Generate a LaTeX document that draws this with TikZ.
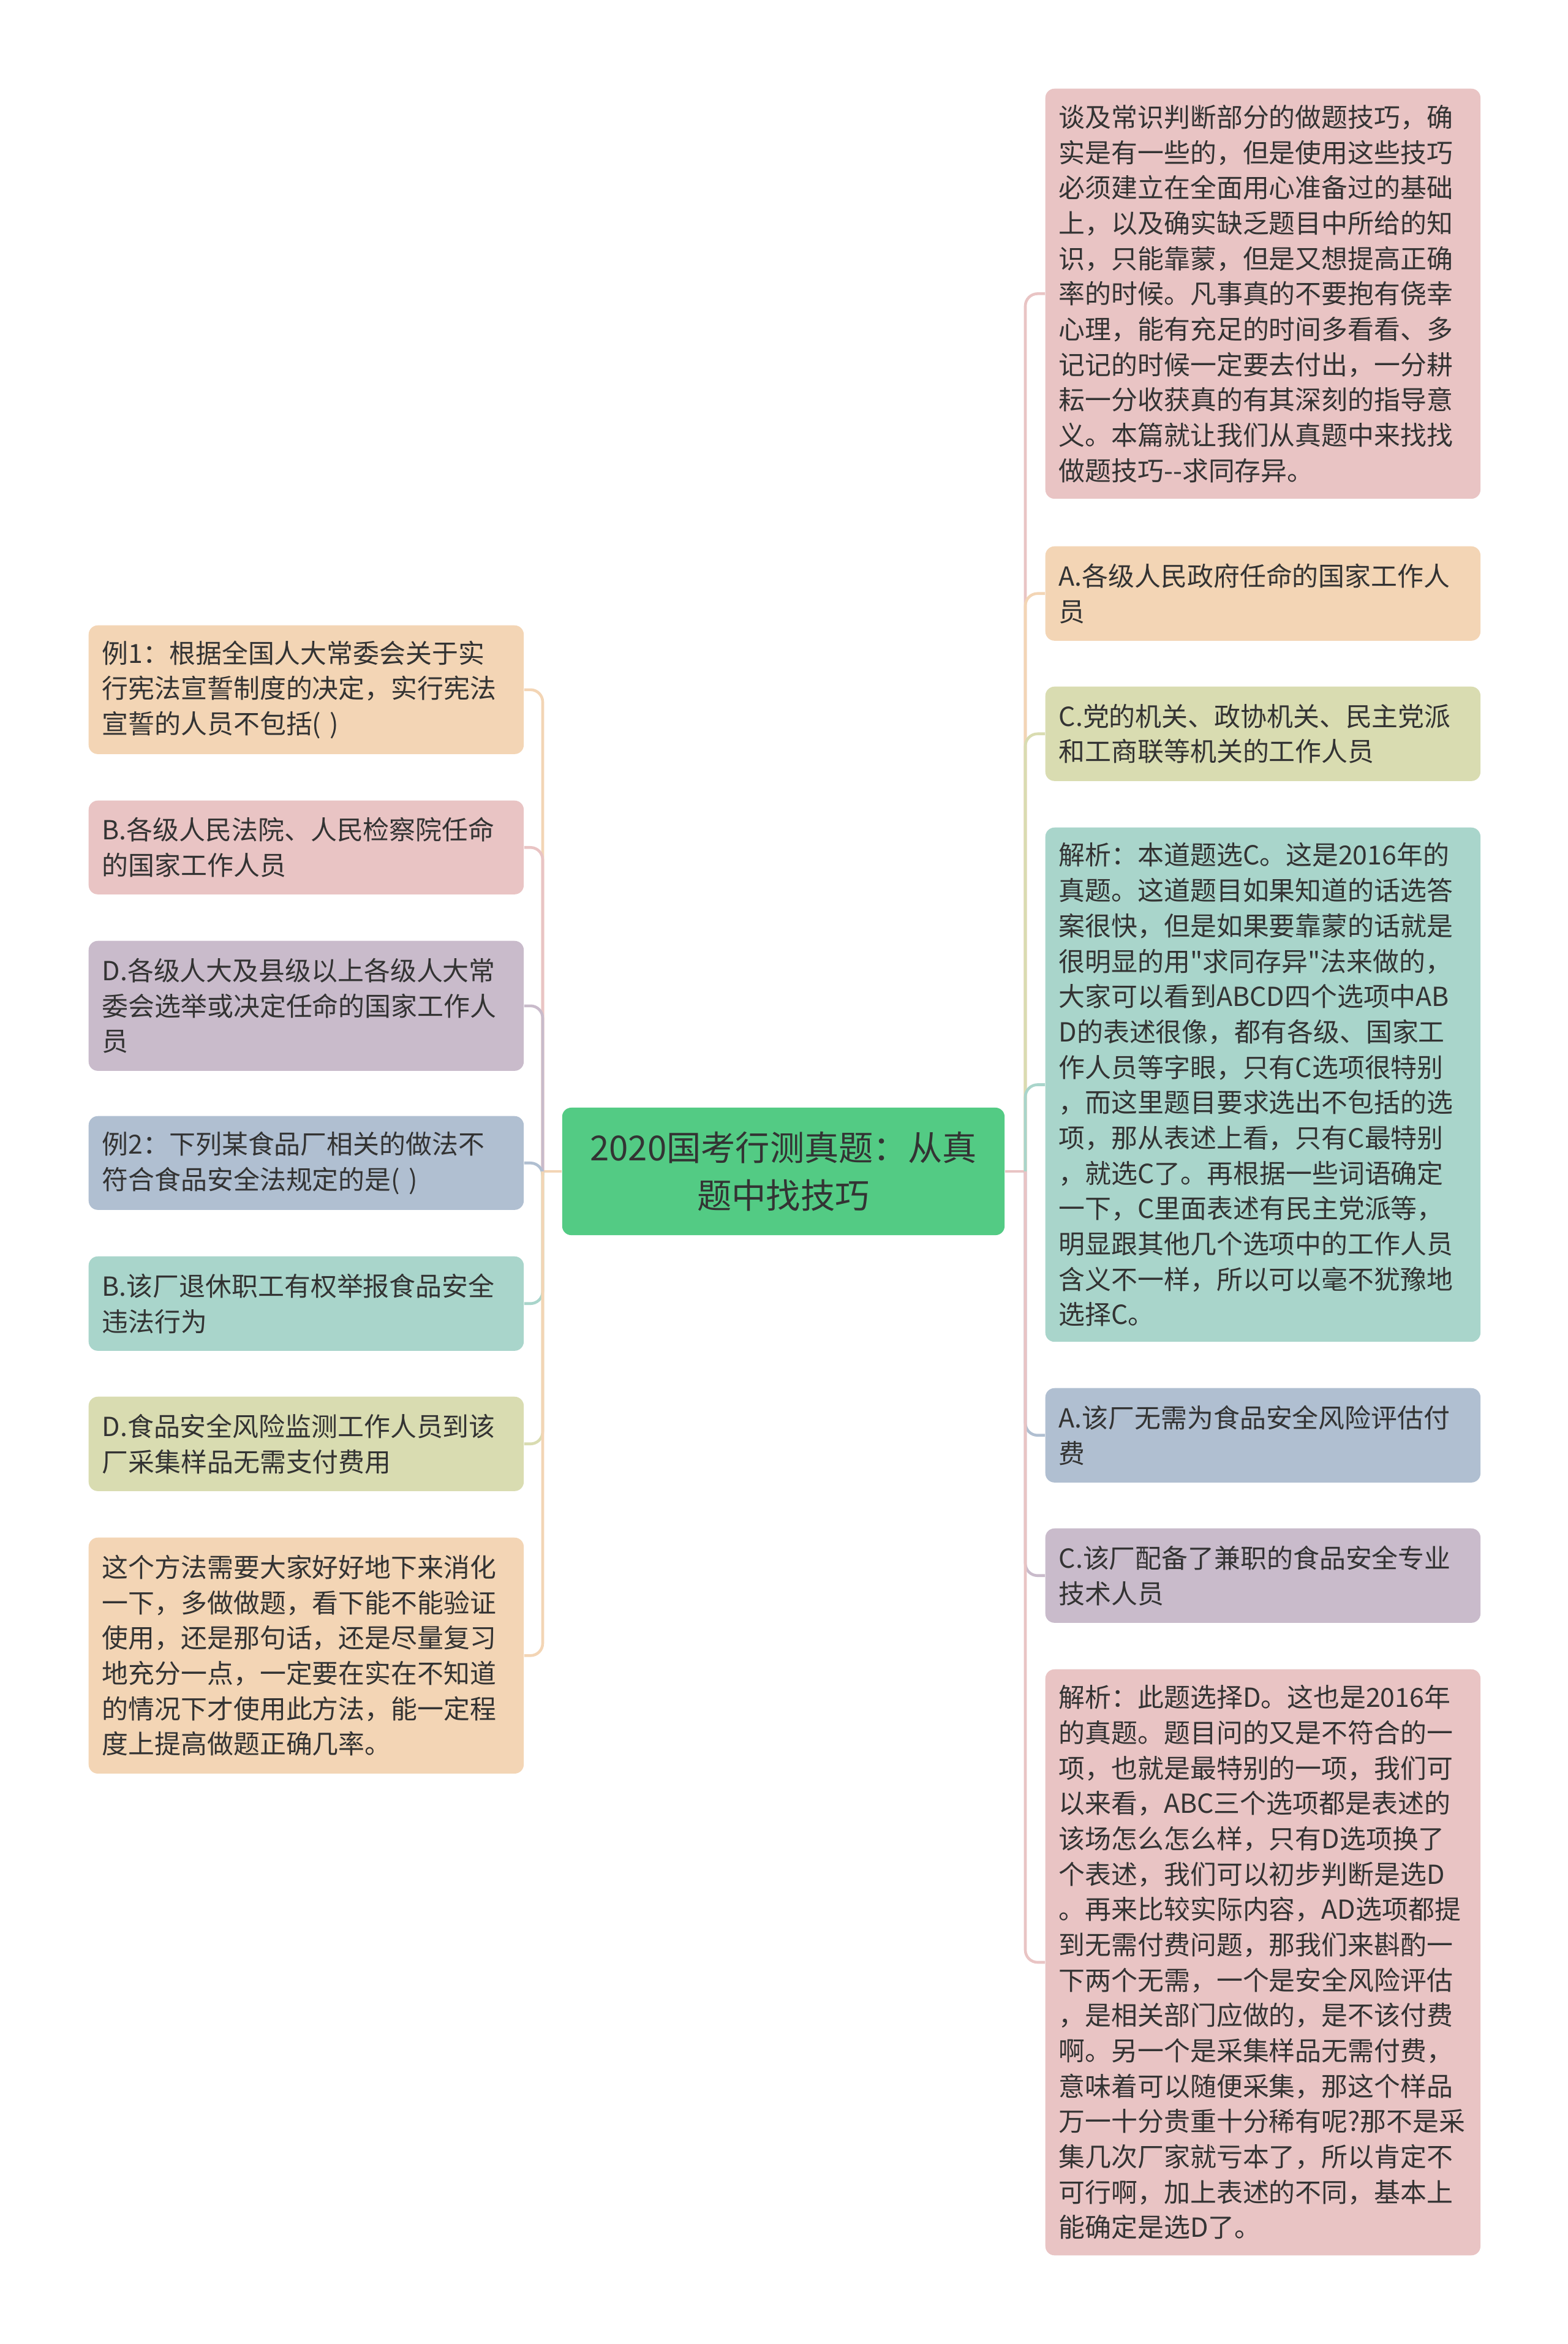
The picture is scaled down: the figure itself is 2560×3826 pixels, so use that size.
\documentclass[tikz,border=0pt]{standalone}
\usepackage{fontspec}
\setmainfont{Noto Sans CJK SC}[Ligatures=TeXOff]
\definecolor{cPeach}{HTML}{F3D5B5}
\definecolor{cPink}{HTML}{E9C4C4}
\definecolor{cLilac}{HTML}{C9BBCB}
\definecolor{cSlate}{HTML}{B0BFD1}
\definecolor{cTeal}{HTML}{A9D5CB}
\definecolor{cOlive}{HTML}{D9DCB1}
\definecolor{cGreen}{HTML}{53CB84}
\definecolor{txt}{HTML}{333333}

\begin{document}
\begin{tikzpicture}[x=0.01cm,y=-0.01cm,
  leaf/.style={rounded corners=0.15cm, inner xsep=0.22cm, inner ysep=0pt,
    text width=6.66cm, align=left, anchor=north west, text=txt,
    font=\fontsize{12.2pt}{16.4pt}\selectfont},
  branch/.style={line width=1.3pt, rounded corners=0.2cm}]
  \useasboundingbox (0,0) rectangle (2560,3826);
  % centre topic
  \node[fill=cGreen, rounded corners=0.15cm, minimum width=7.22cm, minimum height=2.08cm,
    align=center, text=txt, font=\fontsize{16pt}{22pt}\selectfont] (root) at (1279,1912)
    {2020国考行测真题：从真\\题中找技巧};
  % left side
  \node[leaf, fill=cPeach, minimum height=2.10cm] (l1) at (144,1020)
    {例1：根据全国人大常委会关于实\\行宪法宣誓制度的决定，实行宪法\\宣誓的人员不包括( )};
  \node[leaf, fill=cPink, minimum height=1.53cm] (l2) at (144,1306)
    {B.各级人民法院、人民检察院任命\\的国家工作人员};
  \node[leaf, fill=cLilac, minimum height=2.12cm] (l3) at (144,1535)
    {D.各级人大及县级以上各级人大常\\委会选举或决定任命的国家工作人\\员};
  \node[leaf, fill=cSlate, minimum height=1.53cm] (l4) at (144,1821)
    {例2：下列某食品厂相关的做法不\\符合食品安全法规定的是( )};
  \node[leaf, fill=cTeal, minimum height=1.54cm] (l5) at (144,2050)
    {B.该厂退休职工有权举报食品安全\\违法行为};
  \node[leaf, fill=cOlive, minimum height=1.54cm] (l6) at (144,2279)
    {D.食品安全风险监测工作人员到该\\厂采集样品无需支付费用};
  \node[leaf, fill=cPeach, minimum height=3.85cm] (l7) at (144,2509)
    {这个方法需要大家好好地下来消化\\一下，多做做题，看下能不能验证\\使用，还是那句话，还是尽量复习\\地充分一点，一定要在实在不知道\\的情况下才使用此方法，能一定程\\度上提高做题正确几率。};
  % right side
  \node[leaf, fill=cPink, minimum height=6.69cm] (r1) at (1706,144)
    {谈及常识判断部分的做题技巧，确\\实是有一些的，但是使用这些技巧\\必须建立在全面用心准备过的基础\\上，以及确实缺乏题目中所给的知\\识，只能靠蒙，但是又想提高正确\\率的时候。凡事真的不要抱有侥幸\\心理，能有充足的时间多看看、多\\记记的时候一定要去付出，一分耕\\耘一分收获真的有其深刻的指导意\\义。本篇就让我们从真题中来找找\\做题技巧-{}-求同存异。};
  \node[leaf, fill=cPeach, minimum height=1.54cm] (r2) at (1706,891)
    {A.各级人民政府任命的国家工作人\\员};
  \node[leaf, fill=cOlive, minimum height=1.54cm] (r3) at (1706,1120)
    {C.党的机关、政协机关、民主党派\\和工商联等机关的工作人员};
  \node[leaf, fill=cTeal, minimum height=8.39cm] (r4) at (1706,1350)
    {解析：本道题选C。这是2016年的\\真题。这道题目如果知道的话选答\\案很快，但是如果要靠蒙的话就是\\很明显的用"求同存异"法来做的，\\大家可以看到ABCD四个选项中AB\\D的表述很像，都有各级、国家工\\作人员等字眼，只有C选项很特别\\，而这里题目要求选出不包括的选\\项，那从表述上看，只有C最特别\\，就选C了。再根据一些词语确定\\一下，C里面表述有民主党派等，\\明显跟其他几个选项中的工作人员\\含义不一样，所以可以毫不犹豫地\\选择C。};
  \node[leaf, fill=cSlate, minimum height=1.54cm] (r5) at (1706,2265)
    {A.该厂无需为食品安全风险评估付\\费};
  \node[leaf, fill=cLilac, minimum height=1.54cm] (r6) at (1706,2494)
    {C.该厂配备了兼职的食品安全专业\\技术人员};
  \node[leaf, fill=cPink, minimum height=9.56cm] (r7) at (1706,2724)
    {解析：此题选择D。这也是2016年\\的真题。题目问的又是不符合的一\\项，也就是最特别的一项，我们可\\以来看，ABC三个选项都是表述的\\该场怎么怎么样，只有D选项换了\\个表述，我们可以初步判断是选D\\。再来比较实际内容，AD选项都提\\到无需付费问题，那我们来斟酌一\\下两个无需，一个是安全风险评估\\，是相关部门应做的，是不该付费\\啊。另一个是采集样品无需付费，\\意味着可以随便采集，那这个样品\\万一十分贵重十分稀有呢?那不是采\\集几次厂家就亏本了，所以肯定不\\可行啊，加上表述的不同，基本上\\能确定是选D了。};
  % connectors
  \coordinate (lspine) at (886,1912);
  \coordinate (rspine) at (1674,1912);
  \draw[branch, cPeach] (root.west) -- (lspine);
  \draw[branch, cPink] (root.east) -- (rspine);
  \foreach \n/\c in {l1/cPeach,l2/cPink,l3/cLilac,l4/cSlate,l5/cTeal,l6/cOlive,l7/cPeach}
    \draw[branch, \c] (lspine) |- (\n.east);
  \foreach \n/\c in {r1/cPink,r2/cPeach,r3/cOlive,r4/cTeal,r5/cSlate,r6/cLilac,r7/cPink}
    \draw[branch, \c] (rspine) |- (\n.west);
\end{tikzpicture}
\end{document}
